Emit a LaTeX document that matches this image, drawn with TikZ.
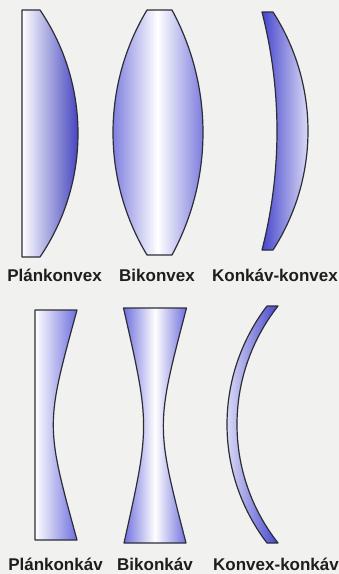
\documentclass[tikz,border=0pt]{standalone}
\usepackage{fontspec}
\setmainfont{Liberation Sans}
\begin{document}
\definecolor{paper}{RGB}{241,241,239}
\definecolor{rim}{RGB}{45,45,55}
\definecolor{deepblue}{RGB}{28,28,178}
\definecolor{midblue}{RGB}{95,95,215}
\definecolor{softblue}{RGB}{70,70,205}
\definecolor{paleblue}{RGB}{110,110,222}
\definecolor{ink}{RGB}{30,30,30}
\begin{tikzpicture}[x=1pt,y=-1pt,
  lens/.style={draw=rim,line width=1.2pt,line join=round},
  caption/.style={font=\bfseries\fontsize{17}{19}\selectfont,text=ink,inner sep=0pt,anchor=base},
  % circular edge arcs: #1 = half chord, #2 = sagitta
  dR/.style 2 args={radius={#1*(#1/(2*#2))+#2/2},
    start angle={-asin(#1/(#1*(#1/(2*#2))+#2/2))},
    end angle={asin(#1/(#1*(#1/(2*#2))+#2/2))}},
  dL/.style 2 args={radius={#1*(#1/(2*#2))+#2/2},
    start angle={180+asin(#1/(#1*(#1/(2*#2))+#2/2))},
    end angle={180-asin(#1/(#1*(#1/(2*#2))+#2/2))}},
  uR/.style 2 args={radius={#1*(#1/(2*#2))+#2/2},
    start angle={asin(#1/(#1*(#1/(2*#2))+#2/2))},
    end angle={-asin(#1/(#1*(#1/(2*#2))+#2/2))}},
  uL/.style 2 args={radius={#1*(#1/(2*#2))+#2/2},
    start angle={180-asin(#1/(#1*(#1/(2*#2))+#2/2))},
    end angle={180+asin(#1/(#1*(#1/(2*#2))+#2/2))}},
]
\fill[paper] (0,0) rectangle (339,574);
\useasboundingbox (0,0) rectangle (339,574);

% --- converging lenses ---
% plano-convex
\path[lens,left color=white,right color=deepblue]
  (22,10) -- (40,10) arc[dR={123.5}{38}] -- (22,257) -- cycle;
% biconvex
\path[lens,left color=midblue,right color=midblue,middle color=white]
  (147,10) -- (172,10) arc[dR={122.5}{31}] -- (147,255) arc[uL={122.5}{34}] -- cycle;
% concave-convex meniscus
\path[lens,left color=softblue,right color=white]
  (262,12) -- (273,12) arc[dR={119}{35}] -- (262,250) arc[uR={119}{15}] -- cycle;

\node[caption] (l1) at (54.5,281) {Plánkonvex};
\node[caption] (l2) at (157,281) {Bikonvex};
\node[caption] (l3) at (275,281) {Konkáv-konvex};

% --- diverging lenses ---
% plano-concave
\path[lens,left color=white,right color=paleblue]
  (35,310) -- (77,310) .. controls (45.4,425) .. (77,540) -- (35,540) -- cycle;
% biconcave
\path[lens,left color=paleblue,right color=paleblue,middle color=white]
  (123.5,308) -- (186.5,308) .. controls (155.7,425.5) .. (186,543)
  -- (124,543) .. controls (150.2,425.5) .. (123.5,308) -- cycle;
% convex-concave meniscus
\path[lens,left color=white,right color=softblue]
  (267,306) -- (278,306) arc[dL={118.5}{41}] -- (267,543) arc[uL={118.5}{40}] -- cycle;

\node[caption] (l4) at (55.5,570) {Plánkonkáv};
\node[caption] (l5) at (155,570) {Bikonkáv};
\node[caption,anchor=base west] (l6) at (213,570) {Konvex-konkáv};
\end{tikzpicture}
\end{document}
